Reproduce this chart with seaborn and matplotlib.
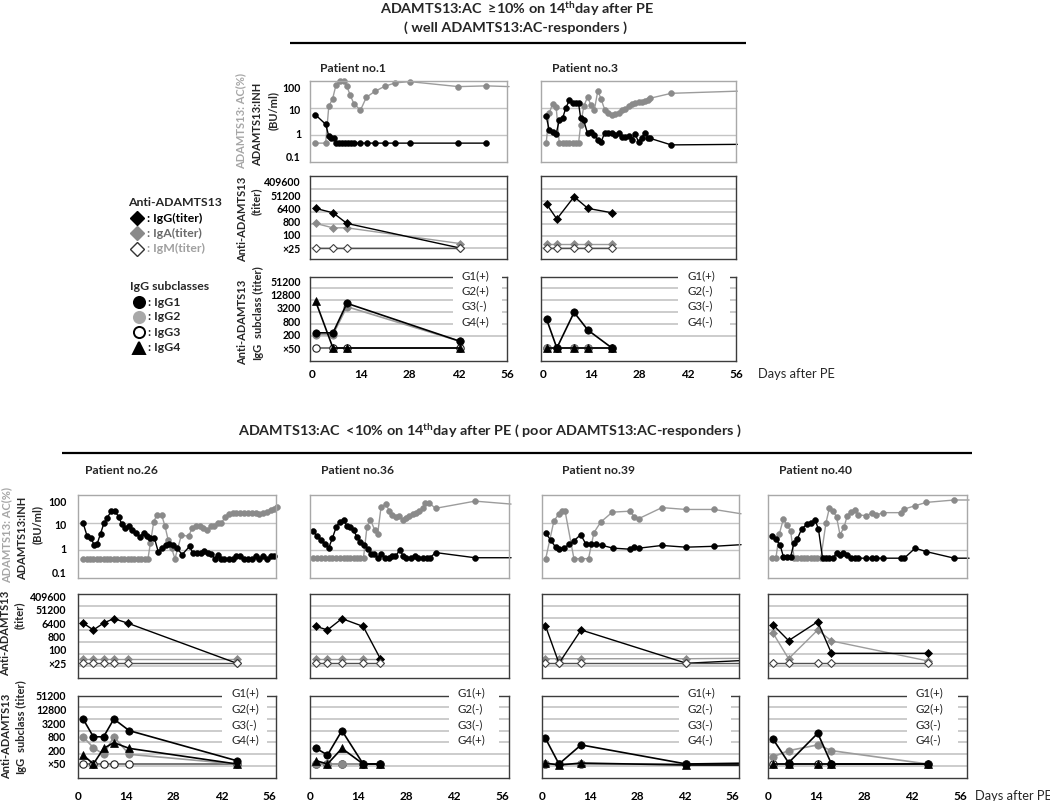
import numpy as np
import matplotlib
matplotlib.use("Agg")
import matplotlib.pyplot as plt
from matplotlib.ticker import FixedLocator, FixedFormatter, NullFormatter
from matplotlib.patches import Rectangle
import seaborn as sns

# ======================= DATA =======================
# ---- Patient no.1 ----
p1_ac_day = [0.9, 3.9, 4.8, 5.9, 6.9, 8.0, 9.1, 9.9, 10.9, 12.0, 13.9, 15.6, 18.0, 20.9, 23.9, 28.0, 42.0, 50.1, 56.6]
p1_ac = [0.5, 0.5, 11.5, 22, 74, 100, 100, 68, 31, 14.5, 8.3, 25, 41, 64, 85, 95, 62, 66, 62]
p1_inh_day = [0.9, 3.9, 4.8, 5.3, 6.3, 6.9, 7.7, 8.6, 9.4, 10.3, 11.1, 12.0, 13.9, 15.8, 18.0, 20.9, 23.9, 28.0, 42.0, 50.1]
p1_inh = [5.7, 2.5, 0.9, 0.8, 0.75, 0.5, 0.5, 0.5, 0.5, 0.5, 0.5, 0.5, 0.5, 0.5, 0.5, 0.5, 0.5, 0.5, 0.5, 0.5]
p1_ab_day = [1, 6, 10, 42.5]
p1_igg = [6400, 3200, 600, 25]
p1_iga = [600, 300, 300, 40]
p1_igm = [25, 25, 25, 25]
p1_g1 = [240, 240, 5100, 100]
p1_g2 = [200, 200, 3600, 100]
p1_g3 = [50, 50, 50, 50]
p1_g4 = [6400, 50, 50, 50]
p1_status = ["G1(+)", "G2(+)", "G3(-)", "G4(+)"]

# ---- Patient no.3 ----
p3_ac_day = [0.9, 1.8, 2.8, 3.8, 4.7, 5.7, 6.6, 7.6, 8.6, 9.5, 10.3, 10.9, 11.8, 12.9, 13.9, 14.9, 15.9, 16.8,
             17.9, 18.9, 19.9, 20.9, 21.9, 22.8, 23.8, 24.8, 25.7, 26.7, 27.7, 28.6, 29.6, 30.5, 31.1, 37.2, 56.4]
p3_ac = [0.5, 6.6, 14.5, 11, 0.5, 0.5, 0.5, 0.5, 0.5, 0.5, 0.5, 2.3, 11.5, 25, 13, 8.7, 44, 22,
         8.7, 6.6, 5.4, 5.8, 6.6, 8.3, 9.5, 11.5, 13.7, 15, 16, 17, 18, 19, 23, 35, 42]
p3_inh_day = [0.9, 1.8, 2.8, 3.8, 4.7, 5.7, 6.6, 7.6, 8.6, 9.5, 10.3, 10.9, 11.8, 12.9, 13.9, 14.9, 15.9, 16.8,
              17.9, 18.9, 19.9, 20.9, 21.9, 22.8, 23.8, 24.8, 25.7, 26.7, 27.7, 28.6, 29.6, 30.5, 31.1, 37.2, 56.4]
p3_inh = [5, 1.5, 1.25, 1.1, 3.5, 4.3, 10, 19, 15, 15, 15, 4.3, 3.5, 1.15, 1.25, 1.0, 0.66, 0.54,
          1.2, 1.2, 1.2, 1.0, 1.15, 0.87, 0.87, 0.95, 0.66, 1.1, 0.56, 0.8, 1.2, 0.8, 0.75, 0.43, 0.45]
p3_ab_day = [1, 4, 9, 13, 20]
p3_igg = [12800, 1200, 40000, 6400, 3200]
p3_iga = [40, 40, 40, 40, 40]
p3_igm = [25, 25, 25, 25, 25]
p3_g1 = [1000, 50, 2000, 320, 50]
p3_g2 = [50, 50, 50, 50, 50]
p3_g3 = [50, 50, 50, 50, 50]
p3_g4 = [50, 50, 50, 50, 50]
p3_status = ["G1(+)", "G2(-)", "G3(-)", "G4(-)"]

# ---- Patient no.26 ----
p26_ac_day = [1.5, 2.5, 3.5, 4.5, 5.5, 6.5, 7.5, 8.5, 9.5, 10.5, 11.5, 12.5, 13.5, 14.5, 15.5, 16.5, 17.5, 18.5, 19.5, 20.5,
              21.2, 22.2, 23.1, 24.5, 25.5, 26.4, 27.4, 28.4, 30.3, 32.4, 33.4, 34.6, 35.6, 36.7, 37.9, 38.9, 39.8, 41.0,
              42.0, 43.1, 44.1, 45.3, 46.4, 47.4, 48.6, 49.8, 50.9, 52.1, 53.1, 54.2, 55.4, 56.6, 57.5, 58.3]
p26_ac = [0.5] * 20 + [1.8, 11, 19, 19, 7.3, 2.4, 1.2, 0.5, 3.6, 3.2, 6.3, 7.6, 7.6, 6.3, 5.5, 7.6, 7.6, 9.6,
                       9.6, 16, 21, 22, 23, 23, 23, 22, 23, 22, 21, 23, 25, 29, 32, 36]
p26_inh_day = [1.5, 2.7, 3.7, 4.7, 5.6, 6.6, 7.6, 8.5, 9.7, 10.7, 11.9, 12.8, 13.8, 15.0, 15.9, 17.1, 18.1, 19.2, 20.2,
               21.2, 22.4, 23.5, 24.5, 25.7, 26.6, 27.8, 29.0, 30.5, 32.7, 33.6, 34.8, 36.0, 36.9, 38.1, 39.1, 40.0,
               41.0, 42.0, 42.9, 44.1, 45.3, 46.4, 47.4, 48.6, 49.8, 50.9, 52.1, 53.1, 54.2, 55.4, 56.6, 57.5]
p26_inh = [9.6, 3.2, 2.9, 1.6, 1.7, 4, 9.6, 14.5, 26, 27, 16.6, 9, 6.3, 7.6, 5.5, 4.1, 3, 4.4, 3.2,
           2.8, 2.7, 0.9, 1.2, 1.6, 1.7, 1.6, 1.2, 0.7, 1.4, 0.8, 0.8, 0.8, 0.95, 0.8, 0.75, 0.5,
           0.7, 0.5, 0.5, 0.5, 0.5, 0.6, 0.6, 0.5, 0.5, 0.5, 0.6, 0.5, 0.65, 0.5, 0.6, 0.65]
p26_ab_day = [1.5, 4.5, 7.5, 10.5, 14.5, 46.5]
p26_igg = [6400, 2200, 6400, 12800, 6400, 25]
p26_iga = [40, 40, 40, 40, 40, 40]
p26_igm = [25, 25, 25, 25, 25, 25]
p26_sub_day = [1.5, 4.5, 7.5, 10.5, 15, 46.5]
p26_g1 = [4900, 800, 800, 4900, 1500, 70]
p26_g2 = [800, 265, 134, 800, 134, 50]
p26_g3 = [50, 50, 50, 50, 50, 50]
p26_g4 = [125, 50, 246, 440, 246, 50]
p26_status = ["G1(+)", "G2(+)", "G3(-)", "G4(+)"]

# ---- Patient no.36 ----
p36_ac_day = [1.0, 2.0, 3.1, 4.3, 5.5, 6.5, 7.6, 8.6, 9.8, 10.8, 11.7, 12.7, 13.7, 14.7, 15.6,
              16.6, 17.6, 18.8, 19.7, 20.7, 22.1, 23.1, 24.0, 25.0, 26.0, 27.0, 27.9, 28.9, 29.9, 30.9,
              31.9, 32.8, 33.6, 34.8, 36.6, 48.1, 58.6]
p36_ac = [0.54] * 15 + [7, 13, 5.6, 3.8, 36, 47, 27, 19, 16, 17, 13, 15, 17, 20, 22,
                        27, 33, 50, 50, 33, 60, 47]
p36_inh_day = [1.0, 2.0, 3.1, 4.3, 5.5, 6.5, 7.6, 8.6, 9.8, 10.8, 11.7, 12.7, 13.7, 14.7, 15.6, 16.8, 17.8, 18.7,
               19.9, 20.8, 22.0, 23.1, 24.0, 24.9, 26.2, 27.2, 28.1, 29.3, 30.5, 31.6, 32.8, 34.0, 35.0, 36.6, 48.1, 58.6]
p36_inh = [5, 3.2, 2.3, 1.7, 1.26, 2.7, 6.7, 10.7, 12.3, 7.4, 6.7, 5.4, 3, 2, 1.5, 1.15, 0.75, 0.75,
           0.54, 0.75, 0.54, 0.54, 0.6, 0.6, 1.05, 0.6, 0.54, 0.54, 0.6, 0.54, 0.54, 0.54, 0.54, 0.83, 0.54, 0.54]
p36_ab_day = [1.8, 5.1, 9.3, 15.5, 20.5]
p36_igg = [3800, 2200, 12800, 3800, 40]
p36_iga = [40, 40, 40, 40, 40]
p36_igm = [25, 25, 25, 25, 25]
p36_g1 = [246, 125, 1500, 50, 50]
p36_g2 = [50, 50, 50, 50, 50]
p36_g3 = [50, 50, 50, 50, 50]
p36_g4 = [70, 50, 246, 50, 50]
p36_status = ["G1(+)", "G2(-)", "G3(-)", "G4(+)"]

# ---- Patient no.39 ----
p39_ac_day = [1.1, 3.5, 5.0, 5.8, 6.8, 9.4, 11.4, 13.7, 15.3, 17.3, 20.7, 25.9, 27.2, 28.5, 35.3, 42.4, 50.7, 58.6]
p39_ac = [0.5, 11.5, 21, 26, 26, 0.5, 0.5, 0.5, 4.4, 10.5, 24, 26, 16, 14, 35, 30, 30, 21]
p39_inh_day = [1.1, 2.6, 4.0, 5.0, 6.5, 8.0, 9.4, 11.4, 12.9, 14.3, 15.8, 17.8, 20.9, 25.9, 27.2, 28.6, 35.3, 42.4, 50.7, 58.6]
p39_inh = [4.2, 2.3, 1.3, 1.15, 1.2, 1.66, 2.2, 3.7, 1.7, 1.7, 1.7, 1.5, 1.2, 1.1, 1.3, 1.2, 1.5, 1.3, 1.4, 1.6]
p39_ab_day = [1, 5, 11.5, 42.5, 62]
p39_igg = [4300, 25, 2200, 25, 35]
p39_iga = [40, 40, 40, 40, 42]
p39_igm = [25, 25, 25, 25, 25]
p39_g1 = [690, 50, 350, 50, 55]
p39_g2 = [50, 50, 50, 50, 50]
p39_g3 = [50, 50, 50, 50, 50]
p39_g4 = [55, 45, 55, 45, 45]
p39_status = ["G1(+)", "G2(-)", "G3(-)", "G4(-)"]

# ---- Patient no.40 ----
p40_ac_day = [1.1, 2.3, 3.3, 4.5, 5.5, 6.6, 7.6, 8.5, 9.5, 10.5, 11.5, 12.4, 13.4, 14.4, 15.4, 16.9, 17.9, 19.0,
              20.0, 21.0, 22.2, 23.1, 24.1, 25.4, 26.3, 28.6, 30.2, 31.5, 33.6, 38.8, 39.7, 42.9, 46.1, 54.3, 58.6]
p40_ac = [0.52, 0.52, 3.9, 14, 8.1, 5.1, 0.52, 0.52, 0.52, 0.52, 0.52, 0.52, 0.52, 0.52, 0.52, 10, 34, 27,
          15.5, 3.6, 7.1, 18, 25, 29, 19, 18, 22, 19, 23, 23, 31, 41, 54, 66, 66]
p40_inh_day = [1.1, 2.3, 3.5, 4.5, 5.5, 6.6, 7.6, 8.5, 9.8, 11.5, 12.4, 13.7, 14.7, 15.9, 16.9, 17.9, 19.0,
               20.0, 21.0, 22.0, 23.1, 24.1, 25.4, 26.3, 28.6, 30.2, 31.5, 33.6, 38.8, 39.7, 42.9, 46.1, 54.3, 58.6]
p40_inh = [3.3, 2.5, 1.6, 0.58, 0.58, 0.58, 1.9, 2.5, 5.9, 9.1, 9.8, 12.6, 5.9, 0.52, 0.52, 0.52, 0.52,
           0.83, 0.7, 0.78, 0.68, 0.52, 0.52, 0.52, 0.52, 0.52, 0.52, 0.52, 0.52, 0.52, 1.2, 0.9, 0.52, 0.52]
p40_ab_day = [1.5, 6, 14.5, 18.5, 46.5]
p40_igg = [4800, 420, 7900, 70, 70]
p40_iga = [1300, 40, 2200, 400, 32]
p40_igm = [25, 25, 25, 25, 25]
p40_g1 = [620, 57, 1150, 50, 50]
p40_g2 = [105, 195, 350, 195, 50]
p40_g3 = [50, 50, 50, 50, 50]
p40_g4 = [50, 50, 50, 50, 50]
p40_status = ["G1(+)", "G2(+)", "G3(-)", "G4(-)"]

# axis tick labels
day_ticks = [0, 14, 28, 42, 56]
ac_tick_labels = ["100", "10", "1", "0.1"]
titer_ticks = [25, 100, 800, 6400, 51200, 409600]
titer_tick_labels = ["×25", "100", "800", "6400", "51200", "409600"]
sub_ticks = [50, 200, 800, 3200, 12800, 51200]
sub_tick_labels = ["×50", "200", "800", "3200", "12800", "51200"]

# ======================= STYLE =======================
sns.set_theme(style="white")
plt.rcParams["font.family"] = ["Lato", "DejaVu Sans"]
plt.rcParams["font.weight"] = "bold"
plt.rcParams["mathtext.fontset"] = "custom"
plt.rcParams["mathtext.rm"] = "Lato"
plt.rcParams["mathtext.bf"] = "Lato:bold"
plt.rcParams["xtick.labelcolor"] = "black"
plt.rcParams["ytick.labelcolor"] = "black"

BLACK = "#000000"
GRAY = "#8a8a8a"
GRAY_LINE = "#9c9c9c"
GRID = "#c4c4c4"
FRAME_A = "#a8a8a8"
FRAME_BC = "#3c3c3c"

W, H = 1050, 801
fig = plt.figure(figsize=(W / 100, H / 100), dpi=100)


def box(l, t, r, b):
    return [l / W, 1 - b / H, (r - l) / W, (b - t) / H]


# titer axis: label levels are equally spaced
_lv = np.log(np.array([1.5625, 6.25, 25, 100, 800, 6400, 51200, 409600, 3276800, 26214400]))
_pos = np.arange(-2, 8, dtype=float)


def titer_fwd(v):
    v = np.asarray(v, dtype=float)
    return np.interp(np.log(np.clip(v, 1e-6, None)), _lv, _pos)


def titer_inv(u):
    return np.exp(np.interp(np.asarray(u, dtype=float), _pos, _lv))


TOP = dict(rowA=(81, 162), rowB=(176, 259), rowC=(277, 361), xlim=(-0.6, 55.8),
           aLab=[1.75, 0.93, 0.05, -0.8],
           bU=(-0.83, 5.45), bGrid=[0.02, 0.91, 1.82, 2.70, 3.58, 4.47],
           cU=(-0.97, 5.3), cGrid=[0.0, 0.90, 1.79, 2.69, 3.58, 4.48],
           xpad=6.0, ypad=6.5, gbox=(268, 330), gy=[276, 291, 306, 322])
BOT = dict(rowA=(495, 578), rowB=(594, 678), rowC=(696, 778), xlim=(0, 58),
           aLab=[1.75, 0.93, 0.05, -0.8],
           bU=(-1.1, 5.17), bGrid=[-0.2, 0.69, 1.57, 2.49, 3.36, 4.25],
           cU=(-1.03, 5.0), cGrid=[-0.15, 0.74, 1.60, 2.45, 3.31, 4.17],
           xpad=9.0, ypad=8.5, gbox=(685, 748), gy=[693, 709, 724.5, 740])

TICK_FS = 7.6


def style_frame(ax, color):
    for s in ax.spines.values():
        s.set_visible(True)
        s.set_color(color)
        s.set_linewidth(1.0)
    ax.set_xlabel("")
    ax.set_ylabel("")


def series(ax, x, y, xmax, clip, **kw):
    idx = [i for i, d in enumerate(x) if d <= xmax + 0.4]
    sns.lineplot(x=x, y=y, ax=ax, estimator=None, sort=False, markevery=idx,
                 clip_on=clip, **kw)


def patient(sec, l, r, first, ac_d, ac, inh_d, inh, ab_d, igg, iga, igm,
            sb_d, g1, g2, g3, g4):
    xmax = sec["xlim"][1]
    # ---------- row A : AC / INH ----------
    axA = fig.add_axes(box(l, sec["rowA"][0], r, sec["rowA"][1]))
    axA.set_yscale("log")
    series(axA, ac_d, ac, xmax, False, color=GRAY_LINE, linewidth=1.0, marker="o",
           markersize=4.2, markerfacecolor=GRAY, markeredgecolor=GRAY, markeredgewidth=0.4)
    series(axA, inh_d, inh, xmax, False, color=BLACK, linewidth=1.0, marker="o",
           markersize=4.2, markerfacecolor=BLACK, markeredgecolor=BLACK, markeredgewidth=0.4)
    axA.set_ylim(0.1, 100)
    axA.set_xlim(*sec["xlim"])
    axA.yaxis.set_major_locator(FixedLocator(10 ** np.array(sec["aLab"])))
    axA.yaxis.set_major_formatter(FixedFormatter(ac_tick_labels))
    axA.yaxis.set_minor_locator(FixedLocator([1, 10]))
    axA.yaxis.set_minor_formatter(NullFormatter())
    axA.grid(False)
    axA.grid(True, which="minor", axis="y", color=GRID, linewidth=1.0)
    axA.set_xticks(day_ticks)
    axA.tick_params(axis="both", which="both", length=0, labelbottom=False,
                    labelleft=first, labelsize=TICK_FS, pad=sec["ypad"])
    style_frame(axA, FRAME_A)

    # ---------- row B : titers ----------
    axB = fig.add_axes(box(l, sec["rowB"][0], r, sec["rowB"][1]))
    axB.set_yscale("function", functions=(titer_fwd, titer_inv))
    series(axB, ab_d, iga, xmax, True, color=GRAY_LINE, linewidth=1.0, marker="D",
           markersize=4.0, markerfacecolor=GRAY, markeredgecolor=GRAY, markeredgewidth=0.5)
    series(axB, ab_d, igg, xmax, True, color=BLACK, linewidth=1.0, marker="D",
           markersize=4.0, markerfacecolor=BLACK, markeredgecolor=BLACK, markeredgewidth=0.5)
    series(axB, ab_d, igm, xmax, True, color="#505050", linewidth=1.0, marker="D",
           markersize=4.0, markerfacecolor="white", markeredgecolor="#404040", markeredgewidth=0.8)
    axB.set_ylim(titer_inv(sec["bU"][0]), titer_inv(sec["bU"][1]))
    axB.set_xlim(*sec["xlim"])
    axB.yaxis.set_major_locator(FixedLocator(titer_ticks))
    axB.yaxis.set_major_formatter(FixedFormatter(titer_tick_labels))
    axB.yaxis.set_minor_locator(FixedLocator(titer_inv(sec["bGrid"])))
    axB.yaxis.set_minor_formatter(NullFormatter())
    axB.grid(False)
    axB.grid(True, which="minor", axis="y", color=GRID, linewidth=1.2)
    axB.set_xticks(day_ticks)
    axB.tick_params(axis="both", which="both", length=0, labelbottom=False,
                    labelleft=first, labelsize=TICK_FS, pad=sec["ypad"])
    style_frame(axB, FRAME_BC)

    # ---------- row C : IgG subclasses ----------
    axC = fig.add_axes(box(l, sec["rowC"][0], r, sec["rowC"][1]))
    axC.set_yscale("log", base=4)
    series(axC, sb_d, g3, xmax, True, color="#606060", linewidth=1.2, marker="o",
           markersize=5.3, markerfacecolor="white", markeredgecolor="#202020", markeredgewidth=0.8)
    series(axC, sb_d, g2, xmax, True, color=GRAY_LINE, linewidth=1.2, marker="o",
           markersize=5.3, markerfacecolor=GRAY, markeredgecolor=GRAY, markeredgewidth=0.5)
    series(axC, sb_d, g1, xmax, True, color=BLACK, linewidth=1.2, marker="o",
           markersize=5.3, markerfacecolor=BLACK, markeredgecolor=BLACK, markeredgewidth=0.5)
    series(axC, sb_d, g4, xmax, True, color=BLACK, linewidth=1.2, marker="^",
           markersize=6.0, markerfacecolor=BLACK, markeredgecolor=BLACK, markeredgewidth=0.5)
    axC.set_ylim(50 * 4.0 ** sec["cU"][0], 50 * 4.0 ** sec["cU"][1])
    axC.set_xlim(*sec["xlim"])
    axC.yaxis.set_major_locator(FixedLocator(sub_ticks))
    axC.yaxis.set_major_formatter(FixedFormatter(sub_tick_labels))
    axC.yaxis.set_minor_locator(FixedLocator(50 * 4.0 ** np.array(sec["cGrid"])))
    axC.yaxis.set_minor_formatter(NullFormatter())
    axC.grid(False)
    axC.grid(True, which="minor", axis="y", color=GRID, linewidth=1.2)
    axC.set_xticks(day_ticks)
    axC.set_xticklabels([str(d) for d in day_ticks])
    axC.tick_params(axis="y", which="both", length=0, labelleft=first, labelsize=TICK_FS, pad=sec["ypad"])
    axC.tick_params(axis="x", which="both", length=0, labelbottom=True, labelsize=8.5, pad=sec["xpad"])
    style_frame(axC, FRAME_BC)


patient(TOP, 310, 507, True, p1_ac_day, p1_ac, p1_inh_day, p1_inh, p1_ab_day, p1_igg, p1_iga, p1_igm,
        p1_ab_day, p1_g1, p1_g2, p1_g3, p1_g4)
patient(TOP, 541, 736, False, p3_ac_day, p3_ac, p3_inh_day, p3_inh, p3_ab_day, p3_igg, p3_iga, p3_igm,
        p3_ab_day, p3_g1, p3_g2, p3_g3, p3_g4)
patient(BOT, 78, 276, True, p26_ac_day, p26_ac, p26_inh_day, p26_inh, p26_ab_day, p26_igg, p26_iga, p26_igm,
        p26_sub_day, p26_g1, p26_g2, p26_g3, p26_g4)
patient(BOT, 310, 509, False, p36_ac_day, p36_ac, p36_inh_day, p36_inh, p36_ab_day, p36_igg, p36_iga, p36_igm,
        p36_ab_day, p36_g1, p36_g2, p36_g3, p36_g4)
patient(BOT, 542, 739, False, p39_ac_day, p39_ac, p39_inh_day, p39_inh, p39_ab_day, p39_igg, p39_iga, p39_igm,
        p39_ab_day, p39_g1, p39_g2, p39_g3, p39_g4)
patient(BOT, 768, 967, False, p40_ac_day, p40_ac, p40_inh_day, p40_inh, p40_ab_day, p40_igg, p40_iga, p40_igm,
        p40_ab_day, p40_g1, p40_g2, p40_g3, p40_g4)

# ======================= OVERLAY (text, legend) =======================
ov = fig.add_axes([0, 0, 1, 1], zorder=20)
ov.set_xlim(0, W)
ov.set_ylim(H, 0)
ov.axis("off")
ov.patch.set_alpha(0)

TITLE_FS = 10.4
ov.text(517, 9, r"ADAMTS13:AC  ≥10% on 14$^{\mathbf{th}}$day after PE", ha="center", va="center", fontsize=TITLE_FS)
ov.text(516, 28, "( well ADAMTS13:AC-responders )", ha="center", va="center", fontsize=TITLE_FS)
ov.plot([290, 746], [43, 43], color="black", linewidth=1.6, solid_capstyle="butt")
ov.text(490, 430, r"ADAMTS13:AC  <10% on 14$^{\mathbf{th}}$day after PE ( poor ADAMTS13:AC-responders )",
        ha="center", va="center", fontsize=TITLE_FS)
ov.plot([62, 972], [453, 453], color="black", linewidth=1.6, solid_capstyle="butt")

# patient names
for x, y, s in [(320, 68, "Patient no.1"), (552, 68, "Patient no.3"), (85, 471, "Patient no.26"),
                (321, 470, "Patient no.36"), (562, 470, "Patient no.39"), (779, 470, "Patient no.40")]:
    ov.text(x, y, s, ha="left", va="center", fontsize=8.7)

# y-axis titles
LAB = 8.0
for dy, ac_x, inh_x, bu_x, anti_x, titer_x, anti2_x, sub_x in [
        (0, 241, 258, 273, 243, 256, 243, 258),
        (414, 7, 23, 37, 6, 19, 7, 21)]:
    ov.text(ac_x, 121 + dy, "ADAMTS13: AC(%)", rotation=90, ha="center", va="center", fontsize=LAB, color="#a6a6a6")
    ov.text(inh_x, 124 + dy, "ADAMTS13:INH", rotation=90, ha="center", va="center", fontsize=LAB)
    ov.text(bu_x, 111 + dy, "(BU/ml)", rotation=90, ha="center", va="center", fontsize=LAB)
    ov.text(anti_x, 219 + dy, "Anti-ADAMTS13", rotation=90, ha="center", va="center", fontsize=LAB)
    ov.text(titer_x, 201 + dy, "(titer)", rotation=90, ha="center", va="center", fontsize=LAB)
    ov.text(anti2_x, 322 + dy, "Anti-ADAMTS13", rotation=90, ha="center", va="center", fontsize=LAB)
    ov.text(sub_x, 302 + dy, "subclass (titer)", rotation=90, ha="center", va="center", fontsize=LAB)
    ov.text(sub_x, 351 + dy, "IgG", rotation=90, ha="center", va="center", fontsize=LAB)

# subclass status boxes
for sec, gx, status in [(TOP, (453, 502), p1_status), (TOP, (678, 730), p3_status),
                        (BOT, (222, 267), p26_status), (BOT, (449, 499), p36_status),
                        (BOT, (679, 731), p39_status), (BOT, (907, 958), p40_status)]:
    y0, y1 = sec["gbox"]
    ov.add_patch(Rectangle((gx[0], y0), gx[1] - gx[0], y1 - y0, facecolor="white", edgecolor="none"))
    for yy, s in zip(sec["gy"], status):
        ov.text(gx[0] + 9, yy, s, ha="left", va="center", fontsize=8.3, fontweight="normal", color="#222222")

ov.text(758, 374, "Days after PE", ha="left", va="center", fontsize=9.3, fontweight="normal")
ov.text(975, 796, "Days after PE", ha="left", va="center", fontsize=9.3, fontweight="normal")

# legend
ov.text(128, 203, "Anti-ADAMTS13", ha="left", va="center", fontsize=8.8)
leg1 = [(218, "D", BLACK, BLACK, ": IgG(titer)", BLACK),
        (233, "D", GRAY, GRAY, ": IgA(titer)", "#6a6a6a"),
        (248.5, "D", "white", "#333333", ": IgM(titer)", "#a0a0a0")]
for yy, m, fc, ec, s, tc in leg1:
    ov.plot([137], [yy], marker=m, markersize=7, markerfacecolor=fc, markeredgecolor=ec, markeredgewidth=1.0)
    ov.text(147, yy, s, ha="left", va="center", fontsize=8.8, color=tc)
ov.text(130, 286, "IgG subclasses", ha="left", va="center", fontsize=8.8)
leg2 = [(302, "o", BLACK, BLACK, ": IgG1"), (317, "o", "#a8a8a8", "#a8a8a8", ": IgG2"),
        (332, "o", "white", BLACK, ": IgG3"), (347.5, "^", BLACK, BLACK, ": IgG4")]
for yy, m, fc, ec, s in leg2:
    ov.plot([139], [yy], marker=m, markersize=8, markerfacecolor=fc, markeredgecolor=ec, markeredgewidth=1.4)
    ov.text(148, yy, s, ha="left", va="center", fontsize=8.8)

fig.savefig("out.png", dpi=100)
